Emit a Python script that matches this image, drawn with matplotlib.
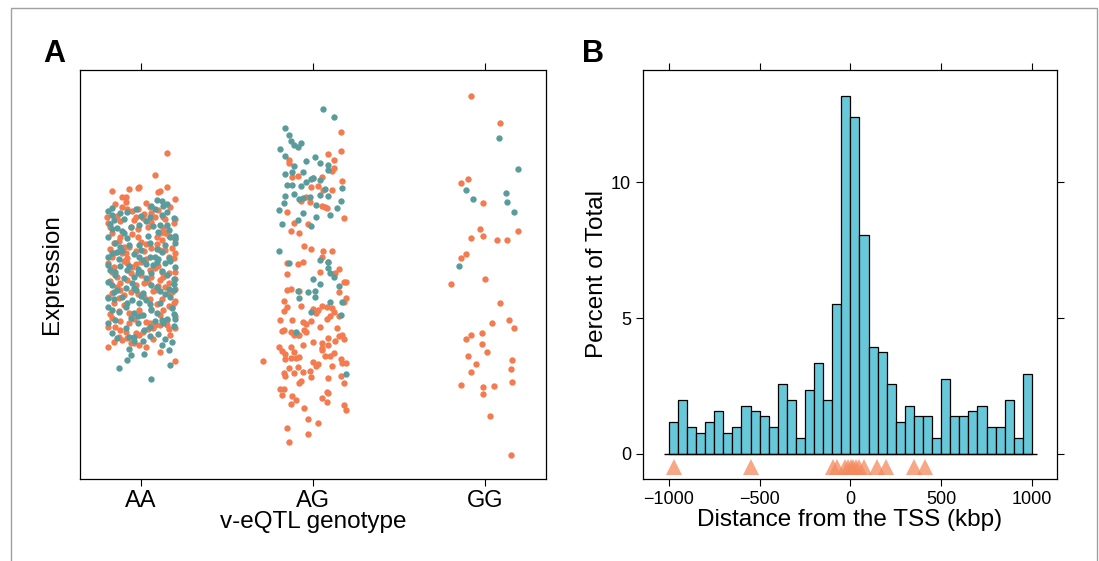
import numpy as np
import matplotlib
matplotlib.use("Agg")
import matplotlib.pyplot as plt
from matplotlib.patches import Rectangle

plt.rcParams["font.family"] = ["Liberation Sans", "DejaVu Sans"]

# ------------------------------------------------------------------
# Panel A: expression by v-eQTL genotype (two groups, jittered strip)
# ------------------------------------------------------------------
genotypes = ["AA", "AG", "GG"]

# AA - orange group
aa_orange_jit = [0.15, 0.08, 0.15, -0.17, -0.07, -0.02, -0.01, 0.10, 0.11, 0.20, -0.11, -0.09, -0.09, -0.11,
                 -0.08, -0.02, 0.02, 0.05, 0.06, -0.20, -0.14, -0.19, -0.04, 0.01, 0.08, 0.13, 0.20, 0.14,
                 -0.06, -0.17, -0.12, -0.05, -0.02, 0.04, 0.11, 0.14, 0.16, 0.20, -0.16, -0.10, -0.07, 0.03,
                 0.09, 0.18, 0.20, -0.16, -0.11, -0.03, 0.02, 0.11, 0.16, -0.19, -0.17, -0.10, -0.08, -0.03,
                 0.05, 0.08, 0.12, 0.16, 0.20, -0.17, -0.14, -0.06, 0.00, 0.06, 0.11, 0.20, -0.12, -0.03,
                 0.02, 0.08, 0.14, 0.20, 0.20, -0.17, -0.10, -0.02, 0.05, 0.16, -0.16, -0.13, -0.07, -0.01,
                 0.06, 0.13, 0.18, 0.20, -0.17, -0.12, -0.07, 0.03, 0.08, 0.11, 0.15, 0.20, -0.19, -0.12,
                 -0.09, -0.03, 0.01, 0.04, 0.16, -0.16, -0.13, -0.08, -0.04, -0.01, 0.11, 0.20,
                 -0.15, 0.03, 0.17, -0.05, 0.10, -0.12, 0.06, 0.19, -0.18, -0.02, 0.13, -0.13, 0.00, 0.12,
                 -0.18, 0.06, 0.14, -0.08, 0.03, 0.19, -0.16, -0.05, 0.10, -0.18, -0.08, 0.04, 0.16, -0.14,
                 0.10, -0.06, 0.07, 0.18, -0.19, -0.13, 0.02, 0.12, -0.10, 0.09, 0.16, -0.18, 0.00, 0.11,
                 -0.04, 0.15, -0.15, 0.07, -0.01, 0.17, -0.11, 0.07, -0.19, 0.03, -0.09, 0.09, -0.03, 0.13,
                 -0.12, 0.05, -0.06, 0.19, -0.17, 0.00]
aa_orange_expr = [10.12, 9.45, 9.10, 8.97, 9.04, 9.06, 9.10, 8.94, 8.98, 8.72, 8.80, 8.78, 8.65, 8.49,
                  8.44, 8.42, 8.28, 8.48, 8.32, 8.18, 8.22, 8.02, 8.10, 8.16, 8.20, 8.20, 8.12, 8.12,
                  7.90, 7.70, 7.60, 7.68, 7.60, 7.88, 7.72, 7.70, 7.62, 7.53, 7.40, 7.28, 7.30, 7.38,
                  7.37, 7.26, 7.11, 7.10, 7.12, 7.18, 7.17, 7.19, 7.00, 6.80, 6.62, 6.88, 6.80, 6.78,
                  6.60, 6.67, 6.53, 6.52, 6.55, 6.55, 6.40, 6.50, 6.45, 6.40, 6.30, 6.33, 6.20, 6.15,
                  6.20, 6.00, 6.08, 6.03, 5.66, 5.90, 5.85, 5.88, 5.73, 5.90, 5.60, 5.38, 5.30, 5.40,
                  5.42, 5.40, 5.50, 5.23, 5.17, 5.08, 5.00, 5.05, 4.95, 4.95, 4.94, 4.86, 4.90, 4.79,
                  4.75, 4.70, 4.75, 4.82, 4.82, 4.44, 4.60, 4.57, 4.40, 4.35, 4.15, 3.86,
                  8.57, 8.61, 8.50, 8.36, 8.40, 8.06, 8.03, 8.01, 7.88, 7.83, 7.86, 7.48, 7.45, 7.50,
                  7.22, 7.25, 7.19, 6.97, 6.93, 6.96, 6.70, 6.68, 6.72, 6.27, 6.29, 6.25, 6.22, 6.10,
                  6.12, 5.95, 5.97, 5.93, 5.78, 5.76, 5.80, 5.74, 5.55, 5.57, 5.53, 5.29, 5.26, 5.24,
                  5.14, 5.11, 4.88, 4.86, 4.64, 4.66, 4.50, 4.52, 4.28, 4.30, 7.10, 7.60, 8.20, 6.40,
                  6.00, 5.00, 4.40, 5.60, 7.00, 6.85]

# AA - teal group
aa_teal_jit = [0.09, 0.12, 0.15, 0.13, 0.06, -0.19, -0.17, -0.12, -0.08, 0.00, 0.05, 0.12, 0.15, -0.16,
               -0.18, -0.14, -0.11, -0.01, 0.07, 0.11, 0.16, 0.20, 0.20, -0.17, -0.15, -0.12, -0.07, -0.01,
               0.05, 0.09, 0.14, 0.20, -0.19, -0.17, -0.14, -0.04, -0.01, 0.01, 0.05, 0.10, 0.16, -0.19,
               -0.12, -0.07, -0.02, 0.03, 0.09, 0.14, 0.20, -0.15, -0.08, -0.04, 0.00, 0.06, 0.15, 0.19,
               -0.19, -0.17, -0.14, -0.09, -0.03, 0.01, 0.06, 0.11, 0.16, 0.19, -0.19, -0.16, -0.11, -0.05,
               -0.01, 0.03, 0.11, 0.17, 0.20, -0.19, -0.17, -0.09, -0.04, 0.01, 0.09, 0.12, 0.19, -0.15,
               -0.06, -0.02, 0.05, 0.08, 0.15, -0.17, -0.07, -0.04, 0.01, 0.12, 0.16, 0.18, -0.07, -0.06,
               -0.08, -0.13, 0.02, 0.17, 0.06,
               -0.17, -0.03, 0.08, 0.19, -0.10, 0.03, -0.06, 0.15, -0.19, -0.08, 0.04, 0.17, -0.11, 0.00,
               0.12, -0.13, 0.08, 0.17, -0.18, -0.02, 0.12, -0.10, 0.03, 0.19, -0.05, 0.09, -0.16, 0.00,
               0.14, -0.08, 0.05, 0.18, -0.13, 0.06, -0.02, 0.13, -0.19, -0.09, 0.02, 0.10, -0.14, 0.05,
               0.19, -0.04, 0.14, -0.10, 0.10, -0.15, 0.07, -0.04]
aa_teal_expr = [8.70, 8.68, 8.58, 8.52, 8.52, 8.38, 8.26, 8.30, 8.34, 8.22, 8.20, 8.25, 8.34, 8.10,
                7.97, 7.86, 7.78, 7.95, 7.92, 7.96, 7.80, 7.63, 7.55, 7.83, 7.40, 7.30, 7.35, 7.34,
                7.40, 7.24, 7.36, 7.40, 7.00, 7.12, 7.14, 7.07, 7.00, 6.90, 7.00, 6.92, 6.95, 6.75,
                6.72, 6.73, 6.62, 6.78, 6.85, 6.80, 6.70, 6.55, 6.60, 6.40, 6.55, 6.52, 6.45, 6.34,
                6.25, 6.15, 6.00, 6.07, 6.00, 5.90, 6.15, 5.98, 6.02, 6.00, 5.75, 5.72, 5.80, 5.70,
                5.60, 5.69, 5.60, 5.80, 5.12, 5.48, 5.40, 5.50, 5.32, 5.24, 5.30, 5.10, 5.28, 5.10,
                5.15, 5.00, 4.88, 5.06, 5.12, 4.70, 4.60, 4.58, 4.46, 4.34, 4.20, 4.44, 4.22, 4.05,
                3.90, 3.66, 4.08, 3.74, 3.32,
                8.47, 8.44, 8.42, 8.15, 8.13, 8.07, 7.90, 7.95, 7.60, 7.55, 7.62, 7.58, 7.18, 7.20,
                7.15, 6.92, 6.98, 6.88, 6.60, 6.52, 6.58, 6.35, 6.36, 6.18, 6.20, 6.10, 5.95, 5.82,
                5.88, 5.62, 5.58, 5.45, 5.35, 5.40, 5.22, 5.00, 5.02, 4.85, 4.80, 4.68, 4.55, 4.62,
                4.92, 4.48, 4.52, 7.70, 7.75, 6.45, 6.75, 6.05]

# AG - orange group
ag_orange_jit = [0.16, 0.16, 0.09, 0.12, -0.14, -0.14, -0.09, -0.12, 0.00, 0.05, 0.11, 0.12, 0.17, -0.01,
                 0.03, 0.06, 0.11, 0.05, 0.07, 0.08, -0.07, -0.02, -0.04, -0.15, 0.18, -0.11, -0.03, -0.13,
                 -0.08, -0.05, -0.01, 0.06, 0.11, 0.05, -0.15, -0.09, -0.06, 0.09, -0.15, 0.04, 0.15, 0.18,
                 0.19, 0.15, 0.13, -0.15, -0.13, -0.08, -0.07, -0.17, -0.15, -0.17, 0.00, 0.02, 0.03, 0.05,
                 0.08, 0.11, 0.12, 0.19, 0.18, -0.19, -0.12, -0.06, -0.04, -0.01, 0.08, 0.10, 0.04, 0.15,
                 -0.18, -0.17, -0.13, -0.11, -0.09, -0.08, -0.05, -0.04, 0.09, 0.14, 0.15, 0.17, 0.18, 0.13,
                 0.09, 0.05, 0.05, -0.20, -0.18, -0.16, -0.13, -0.11, -0.08, -0.13, -0.10, -0.16, -0.06, 0.00,
                 0.07, 0.10, 0.12, 0.03, 0.02, 0.00, -0.09, -0.14, -0.06, -0.02, 0.05, 0.11, 0.16, 0.17,
                 0.19, 0.18, -0.07, -0.08, -0.01, -0.17, -0.16, -0.11, 0.09, -0.19, -0.17, -0.18, -0.12, -0.10,
                 -0.13, 0.08, 0.09, 0.05, 0.08, 0.18, 0.19, -0.05, -0.03, 0.03, -0.15, -0.03, -0.14, -0.29,
                 0.16]
ag_orange_expr = [10.75, 10.17, 10.07, 9.91, 9.90, 9.82, 9.42, 9.38, 9.37, 9.38, 9.56, 9.66, 9.28, 9.10,
                  9.11, 9.00, 8.99, 8.53, 8.48, 8.45, 8.66, 8.65, 8.78, 8.34, 8.16, 8.00, 7.97, 7.76,
                  7.71, 7.33, 7.22, 7.18, 7.17, 7.00, 6.81, 6.79, 6.85, 6.85, 6.48, 6.55, 6.63, 6.23,
                  6.25, 5.95, 6.52, 6.01, 6.03, 5.96, 5.51, 5.66, 5.49, 5.36, 5.44, 5.30, 5.39, 5.51,
                  5.50, 5.46, 5.33, 5.77, 5.63, 5.09, 5.10, 5.03, 4.97, 5.06, 5.14, 5.21, 4.88, 5.23,
                  4.78, 4.80, 4.74, 4.66, 4.64, 4.65, 4.79, 4.74, 4.57, 4.87, 4.61, 4.65, 4.52, 4.48,
                  4.34, 4.40, 4.25, 4.29, 4.16, 4.09, 4.29, 4.15, 4.00, 3.96, 3.97, 3.92, 4.35, 4.43,
                  4.03, 4.03, 4.10, 3.79, 3.72, 3.85, 3.68, 3.65, 3.54, 3.58, 4.21, 3.72, 3.93, 3.80,
                  3.80, 3.20, 3.28, 3.20, 3.40, 3.50, 3.42, 3.50, 3.35, 3.02, 3.02, 2.86, 2.82, 2.69,
                  2.58, 2.95, 2.92, 2.76, 2.65, 2.54, 2.39, 2.46, 2.12, 2.00, 1.86, 1.69, 1.45, 3.86,
                  3.42]

# AG - teal group
ag_teal_jit = [0.06, 0.12, -0.16, -0.14, -0.13, -0.11, -0.09, -0.07, -0.19, -0.16, 0.01, -0.04, 0.04, 0.09,
               0.09, -0.11, -0.16, -0.12, -0.06, -0.01, -0.04, 0.04, -0.15, -0.12, -0.07, 0.00, 0.07, 0.17,
               -0.16, -0.11, -0.08, -0.06, -0.02, 0.04, 0.09, -0.20, -0.17, 0.02, 0.16, 0.14, 0.10, -0.06,
               0.02, -0.18, -0.09, -0.01, -0.20, -0.14, 0.04, 0.09, 0.09, 0.10, 0.12, 0.00, 0.04, 0.15,
               -0.09, -0.03, 0.01, 0.01, -0.08, 0.10, 0.17, -0.01, 0.16, -0.10, 0.19]
ag_teal_expr = [11.43, 11.19, 10.87, 10.66, 10.48, 10.35, 10.28, 10.41, 10.22, 10.02, 9.99, 9.86, 9.80, 9.76,
                9.60, 9.73, 9.47, 9.53, 9.55, 9.33, 9.24, 9.29, 9.15, 9.14, 9.11, 9.37, 9.02, 9.07,
                8.82, 8.88, 8.74, 8.77, 8.78, 8.85, 8.82, 8.40, 8.60, 8.54, 8.67, 8.46, 8.24, 8.30,
                8.20, 7.98, 8.09, 7.92, 7.16, 6.81, 6.90, 6.84, 6.66, 6.52, 6.38, 6.33, 6.17, 6.11,
                5.97, 5.94, 5.96, 5.78, 5.76, 5.65, 5.63, 5.35, 5.26, 4.75, 3.47]

# GG - orange group
gg_orange_jit = [-0.08, 0.09, -0.14, -0.10, -0.01, -0.03, -0.08, -0.01, 0.07, 0.13, 0.19, -0.14, -0.11, -0.20,
                 0.00, 0.09, 0.04, 0.14, 0.17, -0.11, -0.08, -0.02, -0.02, -0.10, 0.01, -0.05, -0.08, 0.16,
                 0.15, 0.16, -0.14, -0.01, 0.05, -0.01, 0.03, 0.15]
gg_orange_expr = [11.82, 11.02, 9.22, 9.34, 8.60, 7.84, 7.57, 7.63, 7.50, 7.49, 7.78, 6.97, 7.08, 6.17,
                  6.33, 5.62, 5.01, 5.11, 4.86, 4.52, 4.64, 4.71, 4.37, 4.03, 4.14, 3.78, 3.54, 3.91,
                  3.62, 3.23, 3.15, 3.08, 3.11, 2.89, 2.22, 1.06]

# GG - teal group
gg_teal_jit = [0.08, 0.19, -0.11, -0.07, 0.12, 0.13, 0.17, -0.15]
gg_teal_expr = [10.57, 9.64, 8.99, 8.72, 8.91, 8.64, 8.35, 6.73]

# ------------------------------------------------------------------
# Panel B: distance of eQTL from the TSS
# ------------------------------------------------------------------
bin_edges = np.arange(-1000, 1001, 50)
percent_total = [1.18, 1.97, 0.98, 0.79, 1.18, 1.57, 0.79, 0.98, 1.77, 1.57,
                 1.38, 0.98, 2.56, 1.97, 0.59, 2.36, 3.35, 1.97, 5.51, 13.19,
                 12.40, 8.07, 3.94, 3.74, 2.56, 1.18, 1.77, 1.38, 1.38, 0.59,
                 2.76, 1.38, 1.38, 1.57, 1.77, 0.98, 0.98, 1.97, 0.59, 2.95]
# highlighted loci (kbp from TSS)
highlight_kbp = [-969, -548, -98, -76, -30, -12, 1, 16, 30, 47, 74, 144, 194, 350, 410]

ORANGE = "#F37B4F"
TEAL = "#5A9C9C"

fig = plt.figure(figsize=(10.99, 5.61), dpi=100)

# light grey frame round the figure
fig.patches.append(Rectangle((0.010, -0.05), 0.988, 1.036, transform=fig.transFigure,
                             fill=False, edgecolor="#A0A0A0", linewidth=1.0))

# ---------------- Panel A ----------------
axA = fig.add_axes([0.0728, 0.1462, 0.4240, 0.7290])
groups = [(aa_orange_jit, aa_orange_expr, ORANGE), (aa_teal_jit, aa_teal_expr, TEAL),
          (ag_orange_jit, ag_orange_expr, ORANGE), (ag_teal_jit, ag_teal_expr, TEAL),
          (gg_orange_jit, gg_orange_expr, ORANGE), (gg_teal_jit, gg_teal_expr, TEAL)]
for i, (jit, expr, col) in enumerate(groups):
    pos = i // 2
    axA.scatter(pos + np.array(jit), expr, s=21, color=col, linewidths=0, zorder=3)

axA.set_xlim(-0.355, 2.355)
axA.set_ylim(0.33, 12.6)
axA.set_xticks(range(len(genotypes)))
axA.set_xticklabels(genotypes, fontsize=17)
axA.set_yticks([])
axA.tick_params(axis="x", direction="out", length=5, width=0.8, top=True, pad=3)
axA.set_xlabel("v-eQTL genotype", fontsize=17.5, labelpad=-1)
axA.set_ylabel("Expression", fontsize=17.5, labelpad=12)
for sp in axA.spines.values():
    sp.set_linewidth(0.9)

# ---------------- Panel B ----------------
axB = fig.add_axes([0.5851, 0.1462, 0.3767, 0.7290])
axB.bar(bin_edges[:-1], percent_total, width=50, align="edge", color="#67C8D9",
        edgecolor="black", linewidth=0.9, zorder=2)
axB.hlines(0, -1027, 1027, color="black", linewidth=1.0, zorder=3)
axB.plot(highlight_kbp, [-0.47] * len(highlight_kbp), linestyle="none", marker="^",
         markersize=11, color="#F58A5E", alpha=0.75, markeredgewidth=0, zorder=4)

axB.set_xlim(-1142, 1138)
axB.set_ylim(-0.92, 14.13)
axB.set_xticks([-1000, -500, 0, 500, 1000])
axB.set_yticks([0, 5, 10])
axB.tick_params(axis="both", direction="out", length=5, width=0.8, labelsize=13)
axB.tick_params(axis="x", top=True)
axB.tick_params(axis="y", right=True)
axB.set_xlabel("Distance from the TSS (kbp)", fontsize=17.5, labelpad=1)
axB.set_ylabel("Percent of Total", fontsize=17.5, labelpad=2)
for sp in axB.spines.values():
    sp.set_linewidth(0.9)

fig.text(0.039, 0.8895, "A", fontsize=22, fontweight="bold", va="baseline")
fig.text(0.5296, 0.8895, "B", fontsize=22, fontweight="bold", va="baseline")

fig.savefig("out.png", dpi=100)
